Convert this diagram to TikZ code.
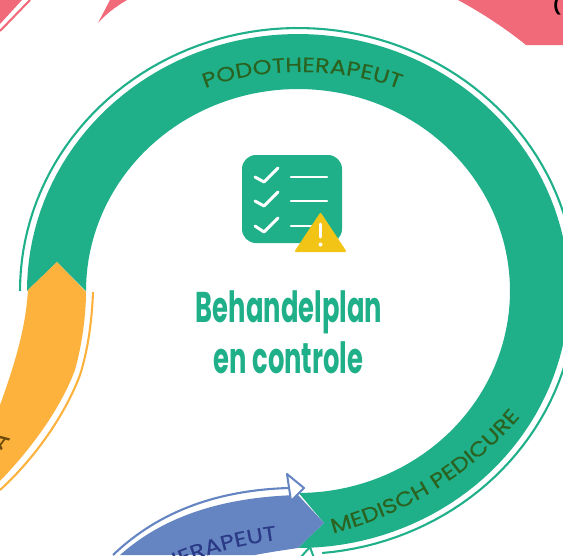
\documentclass[tikz,border=0pt]{standalone}
\usepackage{fontspec}
\usetikzlibrary{decorations.text}
\setmainfont{Poppins}
\newfontfamily\condfont[FakeStretch=0.6]{Poppins}
\newfontfamily\widefont[FakeStretch=1.18,FakeBold=0.25]{Poppins}
\newcommand{\bandfnt}{\widefont\fontsize{20.5}{20.5}\selectfont}
\definecolor{ringgreen}{HTML}{1FB08A}
\definecolor{textgreen}{HTML}{2B621F}
\definecolor{fragcol}{HTML}{6B4A0A}
\definecolor{amber}{HTML}{FDB23D}
\definecolor{steel}{HTML}{6484C2}
\definecolor{navy}{HTML}{2B3A86}
\definecolor{rose}{HTML}{F06A7A}
\definecolor{warn}{HTML}{F2C416}
\tikzset{
  thinline/.style={line width=2.1pt},
  tick/.style={draw=white,line width=3pt,line cap=round,line join=round},
  rowbar/.style={draw=white,line width=2.6pt,line cap=round},
  titletext/.style={font=\condfont\bfseries\fontsize{43}{43}\selectfont,text=ringgreen,anchor=base}
}
\begin{document}
\begin{tikzpicture}[x=1pt,y=-1pt]
\useasboundingbox (0,0) rectangle (563,555);
\begin{scope}
\clip (0,0) rectangle (563,555);
% top pink fragments
\fill[rose] (0,0) -- (22,0) -- (0,24) -- cycle;
\draw[rose,thinline] (30,0) -- (0,31);
\fill[rose] (98,23) .. controls (105,15) and (115,7) .. (127,0) -- (110,0) -- cycle;
\fill[rose] (458,0) .. controls (482,13) and (505,28) .. (526,45) -- (563,45) -- (563,0) -- cycle;
\node[font=\bfseries\fontsize{17}{17}\selectfont,text=black,anchor=base] (paren) at (557,11) {(};
% green ring
\fill[ringgreen] plot[domain=180:450,samples=120] ({298+271*cos(\x)},{291+257*sin(\x)})
  -- (324,523) -- (298,492)
  -- plot[domain=450:180,samples=120] ({298+212*cos(\x)},{291+202*sin(\x)})
  -- (57,262) -- cycle;
\draw[ringgreen,thinline] plot[domain=180:445,samples=120] ({298+278*cos(\x)},{291+263*sin(\x)});
% amber band
\fill[amber] (28,290) .. controls (26,320) and (20,350) .. (0,405) -- (0,481)
  .. controls (30,450) and (60,410) .. (75,370) .. controls (82,345) and (86,315) .. (86,292)
  -- (57,262) -- cycle;
\draw[amber,thinline] (93,292) .. controls (92,320) and (88,350) .. (80,375) .. controls (65,415) and (35,458) .. (0,490);
% blue band
\fill[steel] (120,555) .. controls (165,515) and (225,497) .. (298,495) -- (324,523) -- (298,548)
  .. controls (285,550) and (270,552) .. (255,555) -- cycle;
\draw[steel,thinline] (113,555) .. controls (160,510) and (220,490) .. (289,488);
\draw[steel,fill=white,line width=2pt,line join=round] (287,474) -- (304,488) -- (291,501) -- cycle;
% bottom green arrowhead
\draw[ringgreen,fill=white,line width=2pt,line join=round] (310,547) -- (300,558) -- (314,558) -- cycle;
% curved labels
\path[decorate,decoration={text along path,text align=center,
  text={|\bandfnt\color{textgreen}|PODOTHERAPEUT}}]
  (170,108) .. controls (230,60) and (370,60) .. (435,108);
\path[decorate,decoration={text along path,text align=center,
  text={|\bandfnt\color{textgreen}|MEDISCH PEDICURE}}]
  (318,537) .. controls (395,520) and (470,480) .. (530,405);
\path[decorate,decoration={text along path,text align=right,
  text={|\bandfnt\color{navy}|THERAPEUT}}]
  (70,630) .. controls (130,585) and (195,550) .. (277,540);
% icon
\fill[ringgreen,rounded corners=14pt] (242,155) rectangle (342,243);
\draw[tick] (255,177) -- (264,182) -- (278,168);
\draw[tick] (255,201) -- (264,206) -- (278,192);
\draw[tick] (255,226) -- (264,232) -- (278,218);
\draw[rowbar] (291,177) -- (327,177);
\draw[rowbar] (291,201) -- (327,201);
\draw[rowbar] (291,226) -- (312,226);
\fill[warn,draw=warn,line width=2pt,line join=round] (320.5,214) -- (345,251) -- (296,251) -- cycle;
\draw[white,line width=3pt,line cap=round] (320.5,224) -- (320.5,237);
\fill[white] (320.5,244.5) circle (2);
% title
\node[titletext] (t1) at (289,322) {Behandelplan};
\node[titletext] (t2) at (288.5,373) {en controle};
% clipped letter of the amber label
\node[font=\bandfnt,text=fragcol,rotate=52] (frag) at (0,440) {A};
\end{scope}
\end{tikzpicture}
\end{document}
